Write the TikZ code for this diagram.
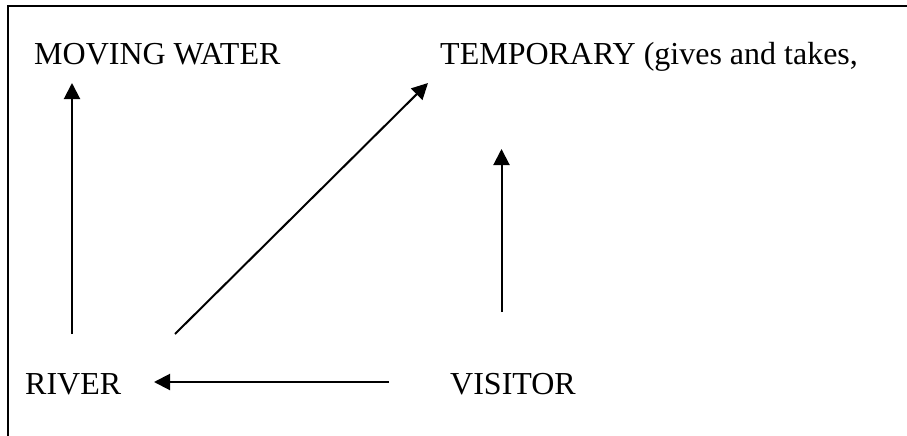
\documentclass[tikz,border=0pt]{standalone}
\usepackage{fontspec}
\setmainfont{Liberation Serif}
\usetikzlibrary{arrows.meta}
\begin{document}
\begin{tikzpicture}[x=1pt,y=-1pt,
  lbl/.style={anchor=base west,inner sep=0pt,font=\fontsize{32}{36}\selectfont},
  conn/.style={line width=2pt,-{Triangle[length=16pt,width=16pt]}},
  frame/.style={line width=1.6pt}]
\useasboundingbox (0,0) rectangle (907,436);
\draw[frame] (8,436) -- (8,6) -- (907,6);
\node[lbl] (mw) at (34,65) {MOVING WATER};
\node[lbl] (tmp) at (440,65) {TEMPORARY (gives and takes,};
\node[lbl] (river) at (25,394) {RIVER};
\node[lbl] (vis) at (450,394) {VISITOR};
\coordinate (a1s) at (72,334);
\coordinate (a1e) at (72,83);
\coordinate (a2s) at (175,334);
\coordinate (a2e) at (428,83);
\coordinate (a3s) at (501.5,312);
\coordinate (a3e) at (501.5,149);
\coordinate (a4s) at (389,382);
\coordinate (a4e) at (154,382);
\draw[conn] (a1s) -- (a1e);
\draw[conn] (a2s) -- (a2e);
\draw[conn] (a3s) -- (a3e);
\draw[conn] (a4s) -- (a4e);
\end{tikzpicture}
\end{document}
